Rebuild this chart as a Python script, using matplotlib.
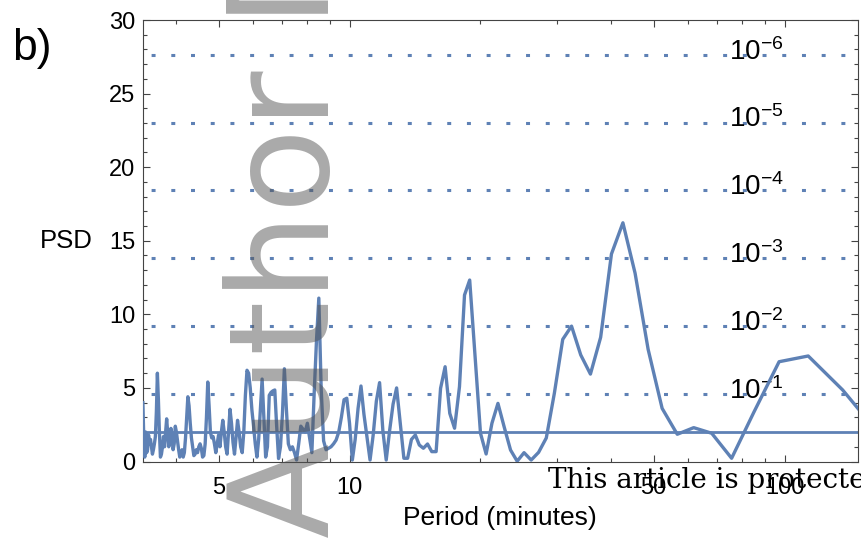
import numpy as np
import matplotlib
matplotlib.use("Agg")
import matplotlib.pyplot as plt
from matplotlib.ticker import FixedLocator, FixedFormatter, NullFormatter

plt.rcParams["font.family"] = ["Liberation Sans", "DejaVu Sans"]
plt.rcParams["mathtext.default"] = "regular"

# Periodogram of a 680-minute record: harmonic k has period RECORD_MINUTES / k
RECORD_MINUTES = 680.0
harmonic = np.arange(4, 204)
psd = [
    1.4, 4.86, 7.17, 6.78, 3.35, 0.22, 1.92, 2.3, 1.85, 3.61,        # k 4-13
    7.62, 12.79, 16.22, 14.1, 8.44, 5.94, 7.24, 9.2, 8.3, 4.63,      # k 14-23
    1.6, 0.62, 0.1, 0.6, 0.02, 0.78, 2.36, 3.95, 2.6, 0.51,          # k 24-33
    1.92, 7.2, 12.33, 11.31, 5.08, 2.26, 3.27, 6.44, 4.97, 0.67,     # k 34-43
    0.67, 1.19, 0.9, 1.12, 1.8, 1.5, 0.22, 0.22, 2.6, 5.0,           # k 44-53
    3.9, 2.1, 0.1, 2.1, 5.36, 4.1, 1.8, 0.1, 1.66, 3.2,              # k 54-63
    5.13, 3.6, 1.5, 0.1, 2.6, 4.3, 4.2, 3.0, 2.0, 1.46,              # k 64-73
    1.2, 1.0, 0.9, 0.8, 1.4, 4.9, 11.1, 8.2, 4.6, 0.6,               # k 74-83
    1.6, 2.6, 2.0, 2.2, 2.4, 1.2, 0.1, 0.6, 1.0, 0.8,                # k 84-93
    1.2, 3.6, 6.3, 3.2, 1.0, 0.2, 2.4, 4.86, 4.8, 4.7,               # k 94-103
    4.5, 1.0, 0.3, 3.0, 5.6, 3.5, 1.5, 0.3, 1.2, 2.4,                # k 104-113
    3.5, 5.0, 6.0, 6.2, 4.5, 2.0, 0.6, 1.0, 2.0, 2.8,                # k 114-123
    1.6, 0.5, 1.3, 2.6, 3.55, 2.0, 0.5, 1.0, 2.0, 2.8,               # k 124-133
    2.0, 1.0, 1.8, 1.2, 0.6, 1.2, 1.7, 1.6, 2.0, 3.8,                # k 134-143
    5.4, 3.0, 1.2, 0.4, 0.3, 0.9, 1.2, 1.0, 0.6, 0.8,                # k 144-153
    0.5, 0.4, 1.0, 1.6, 2.6, 3.8, 4.4, 3.0, 1.6, 0.6,                # k 154-163
    0.3, 0.8, 0.5, 0.3, 0.8, 1.4, 2.0, 2.4, 1.2, 0.8,                # k 164-173
    1.6, 2.25, 1.4, 1.0, 2.0, 2.9, 2.0, 1.0, 1.7, 1.0,               # k 174-183
    0.5, 0.3, 2.0, 4.2, 6.0, 3.4, 1.7, 1.2, 0.8, 0.5,                # k 184-193
    1.0, 1.5, 1.2, 1.8, 0.8, 0.6, 2.0, 0.3, 1.5, 4.0,                # k 194-203
]
noise_floor = 2.0

# False-alarm probability levels and their labels
fap_levels = [4.61, 9.21, 13.82, 18.42, 23.03, 27.63]
fap_labels = [r"$10^{-1}$", r"$10^{-2}$", r"$10^{-3}$",
              r"$10^{-4}$", r"$10^{-5}$", r"$10^{-6}$"]

x_major = [5, 10, 50, 100]
x_major_labels = ["5", "10", "50", "100"]
x_minor = [4, 6, 7, 8, 9, 20, 30, 40, 60, 70, 80, 90]
y_major = [0, 5, 10, 15, 20, 25, 30]
y_minor = list(range(0, 31))

BLUE = "#5e81b5"
FRAME = "#444444"

periods = RECORD_MINUTES / harmonic

fig = plt.figure(figsize=(8.61, 5.41), dpi=100)
ax = fig.add_axes([0.16574, 0.14695, 0.83078, 0.81608])
ax.set_xscale("log")

for lv, lab in zip(fap_levels, fap_labels):
    ax.axhline(lv, color=BLUE, lw=2.2, linestyle=(3.8, (1.3, 5.15)), zorder=1)
    ax.text(74.6, lv - 0.33, lab, fontsize=20, ha="left", va="baseline",
            color="black", zorder=1.5)

ax.axhline(noise_floor, color=BLUE, lw=2.0, zorder=2.5)
ax.plot(periods, psd, color=BLUE, lw=2.4, zorder=3)

ax.set_xlim(3.3465, 147.5)
ax.set_ylim(0, 30)

ax.xaxis.set_major_locator(FixedLocator(x_major))
ax.xaxis.set_major_formatter(FixedFormatter(x_major_labels))
ax.xaxis.set_minor_locator(FixedLocator(x_minor))
ax.xaxis.set_minor_formatter(NullFormatter())
ax.yaxis.set_major_locator(FixedLocator(y_major))
ax.yaxis.set_minor_locator(FixedLocator(y_minor))

ax.tick_params(which="both", direction="in", top=True, right=True,
               color=FRAME, width=0.8, labelsize=17, labelcolor="black")
ax.tick_params(which="major", length=5.2)
ax.tick_params(which="minor", length=2.6)
ax.tick_params(axis="x", which="major", pad=11)
ax.tick_params(axis="y", which="major", pad=5.5)
for sp in ax.spines.values():
    sp.set_color(FRAME)
    sp.set_linewidth(0.8)

ax.set_ylabel("PSD", fontsize=18.5, rotation=0, ha="right", va="center")
ax.yaxis.set_label_coords(-0.0695, 0.5)
ax.set_xlabel("Period (minutes)", fontsize=19, va="center")
ax.xaxis.set_label_coords(0.5, -0.128)

fig.text(12 / 861, 1 - 60 / 541, "b)", fontsize=32, ha="left", va="baseline")

# Overlay for the publisher's watermark and footer
ov = fig.add_axes([0, 0, 1, 1], zorder=10)
ov.set_xlim(0, 1)
ov.set_ylim(0, 1)
ov.axis("off")
ov.patch.set_alpha(0)
ov.text(329 / 861, 1 - 538 / 541, "Author Manuscript", rotation=90,
        rotation_mode="anchor", ha="left", va="baseline", fontsize=100,
        family="DejaVu Sans", color=(0.33, 0.33, 0.33), alpha=0.5, clip_on=True)
ov.text(548 / 861, 1 - 488 / 541,
        "This article is protected by copyright. All rights reserved",
        family="DejaVu Serif", fontsize=20, ha="left", va="baseline",
        color="black", clip_on=True)

fig.savefig("out.png", dpi=100)
